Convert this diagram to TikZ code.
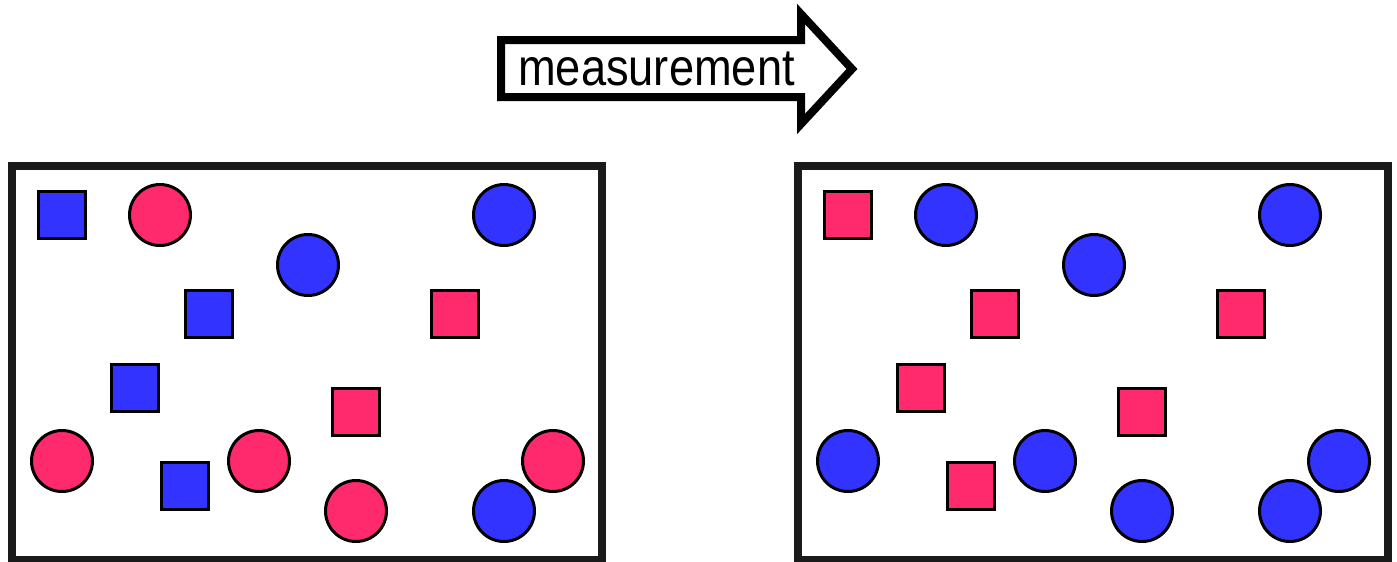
\documentclass[tikz,border=0pt]{standalone}
\usepackage{fontspec}
\setmainfont{Liberation Sans}
\definecolor{qblue}{HTML}{3333FF}
\definecolor{qred}{HTML}{FF2A6D}
\definecolor{frameline}{HTML}{1A1A1A}
\begin{document}
\begin{tikzpicture}[x=1pt,y=-1pt,
  frame/.style={draw=frameline, line width=8pt, rectangle, minimum width=590pt, minimum height=394pt, inner sep=0pt},
  sq/.style={draw=black, line width=3pt, rectangle, minimum size=47pt, inner sep=0pt},
  ci/.style={draw=black, line width=3pt, circle, minimum size=61pt, inner sep=0pt},
  bs/.style={sq, fill=qblue}, rs/.style={sq, fill=qred},
  bc/.style={ci, fill=qblue}, rc/.style={ci, fill=qred},
  bigarrow/.style={draw=black, line width=8pt, line join=miter, fill=white}]
\useasboundingbox (0,0) rectangle (1397,562);
% arrow
\draw[bigarrow] (501,40) -- (801,40) -- (801,14) -- (852,69) -- (801,124) -- (801,97) -- (501,97) -- cycle;
\node[anchor=base, inner sep=0pt] (lbl) at (656.5,85) {\fontsize{52pt}{60pt}\selectfont\scalebox{0.87}[1]{measurement}};
% frames
\node[frame] (boxL) at (307,363) {};
\node[frame] (boxR) at (1093,363) {};
% left box
\node[bs] (l1) at (62,215) {};
\node[rc] (l2) at (160,215) {};
\node[bc] (l3) at (504,215) {};
\node[bc] (l4) at (308,265) {};
\node[bs] (l5) at (209,314) {};
\node[rs] (l6) at (455,314) {};
\node[bs] (l7) at (135,388) {};
\node[rs] (l8) at (356,412) {};
\node[rc] (l9) at (62,461) {};
\node[bs] (l10) at (185,486) {};
\node[rc] (l11) at (259,461) {};
\node[rc] (l12) at (356,511) {};
\node[bc] (l13) at (504,511) {};
\node[rc] (l14) at (553,461) {};
% right box
\node[rs] (r1) at (848,215) {};
\node[bc] (r2) at (946,215) {};
\node[bc] (r3) at (1290,215) {};
\node[bc] (r4) at (1094,265) {};
\node[rs] (r5) at (995,314) {};
\node[rs] (r6) at (1241,314) {};
\node[rs] (r7) at (921,388) {};
\node[rs] (r8) at (1142,412) {};
\node[bc] (r9) at (848,461) {};
\node[rs] (r10) at (971,486) {};
\node[bc] (r11) at (1045,461) {};
\node[bc] (r12) at (1142,511) {};
\node[bc] (r13) at (1290,511) {};
\node[bc] (r14) at (1339,461) {};
\end{tikzpicture}
\end{document}
